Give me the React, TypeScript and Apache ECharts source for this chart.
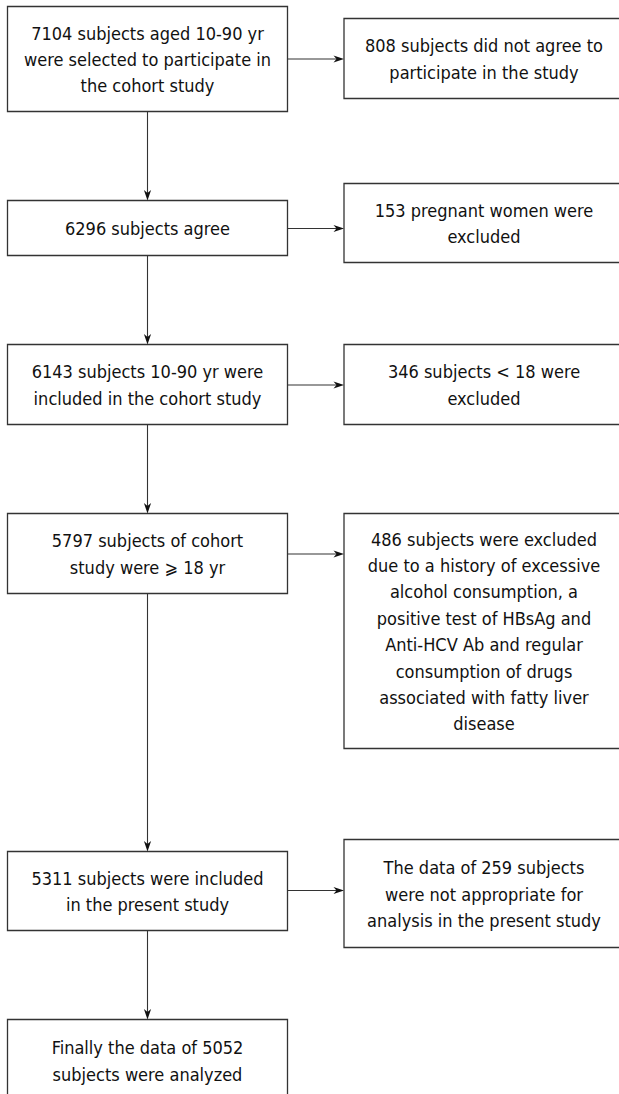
import React, { useEffect, useRef } from "react";
import * as echarts from "echarts";

// Flow data: main path steps and the exclusions branching off each step
const stepTexts = [
  "7104 subjects aged 10-90 yr\nwere selected to participate in\nthe cohort study",
  "6296 subjects agree",
  "6143 subjects 10-90 yr were\nincluded in the cohort study",
  "5797 subjects of cohort\nstudy were ⩾ 18 yr",
  "5311 subjects were included\nin the present study",
  "Finally the data of 5052\nsubjects were analyzed",
];
const exclusionTexts = [
  "808 subjects did not agree to\nparticipate in the study",
  "153 pregnant women were\nexcluded",
  "346 subjects < 18 were\nexcluded",
  "486 subjects were excluded\ndue to a history of excessive\nalcohol consumption, a\npositive test of HBsAg and\nAnti-HCV Ab and regular\nconsumption of drugs\nassociated with fatty liver\ndisease",
  "The data of 259 subjects\nwere not appropriate for\nanalysis in the present study",
];

// Layout (pixels)
const W = 619;
const H = 1094;
const LEFT_X = 7;
const BOX_W = 280;
const RIGHT_X = 343.5;
const CX = LEFT_X + BOX_W / 2;
const stepBoxes = [
  [6, 111],
  [200, 255],
  [344, 424],
  [513, 593],
  [851, 930],
  [1019, 1101],
];
const exclBoxes = [
  [18, 98],
  [183, 262],
  [344, 424],
  [513, 748],
  [839, 947],
];
const exclArrowY = [58.5, 228, 384.5, 553.5, 890];

const FONT = '18px "DejaVu Sans Condensed", "DejaVu Sans", sans-serif';
const LINE_H = 26.4;
const STROKE = "#333";
const TEXT = "#111";

function buildGraphics() {
  const els: any[] = [];
  const box = (x: number, y0: number, y1: number, text: string) => {
    els.push({
      type: "rect",
      shape: { x: x + 0.5, y: y0 + 0.5, width: BOX_W, height: y1 - y0 },
      style: { fill: "#fff", stroke: STROKE, lineWidth: 1.3 },
    });
    els.push({
      type: "text",
      style: {
        text,
        x: x + BOX_W / 2 + 0.5,
        y: (y0 + y1) / 2 + 1,
        align: "center",
        verticalAlign: "middle",
        font: FONT,
        lineHeight: LINE_H,
        fill: TEXT,
      },
    });
  };
  stepTexts.forEach((t, i) => box(LEFT_X, stepBoxes[i][0], stepBoxes[i][1], t));
  exclusionTexts.forEach((t, i) => box(RIGHT_X, exclBoxes[i][0], exclBoxes[i][1], t));

  // vertical arrows
  for (let i = 0; i < stepBoxes.length - 1; i++) {
    const y0 = stepBoxes[i][1] + 0.5;
    const y1 = stepBoxes[i + 1][0] + 0.5;
    els.push({
      type: "line",
      shape: { x1: CX + 0.5, y1: y0, x2: CX + 0.5, y2: y1 - 6 },
      style: { stroke: STROKE, lineWidth: 1.1 },
    });
    els.push({
      type: "polygon",
      shape: {
        points: [
          [CX + 0.5, y1],
          [CX + 0.5 - 3.6, y1 - 10.5],
          [CX + 0.5, y1 - 7.5],
          [CX + 0.5 + 3.6, y1 - 10.5],
        ],
      },
      style: { fill: "#111" },
    });
  }
  // horizontal arrows
  exclArrowY.forEach((y) => {
    const x0 = LEFT_X + BOX_W + 0.5;
    const x1 = RIGHT_X + 0.5;
    const yy = y + 0.5;
    els.push({
      type: "line",
      shape: { x1: x0, y1: yy, x2: x1 - 6, y2: yy },
      style: { stroke: STROKE, lineWidth: 1.1 },
    });
    els.push({
      type: "polygon",
      shape: {
        points: [
          [x1, yy],
          [x1 - 10.5, yy - 3.6],
          [x1 - 7.5, yy],
          [x1 - 10.5, yy + 3.6],
        ],
      },
      style: { fill: "#111" },
    });
  });
  return els;
}

export default function App() {
  const ref = useRef<HTMLDivElement>(null);
  useEffect(() => {
    document.body.style.margin = "0";
    const chart = echarts.init(ref.current!, undefined, { renderer: "svg" });
    chart.setOption({
      animation: false,
      backgroundColor: "#fff",
      graphic: { elements: buildGraphics() },
    });
    return () => chart.dispose();
  }, []);
  return (
    <div
      ref={ref}
      style={{ position: "absolute", left: 0, top: 0, width: W, height: H, overflow: "hidden" }}
    />
  );
}
